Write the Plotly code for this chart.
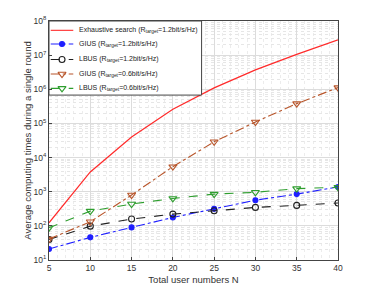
import plotly.graph_objects as go

N = [5, 10, 15, 20, 25, 30, 35, 40]
exhaustive_12 = [123, 3800, 40000, 260000, 1.1e6, 3.7e6, 1.05e7, 2.8e7]
gius_12 = [21, 46, 90, 176, 315, 565, 850, 1380]
lbus_12 = [40, 98, 158, 221, 276, 347, 398, 465]
gius_06 = [41, 132, 800, 5400, 29000, 110000, 380000, 1.12e6]
lbus_06 = [88, 270, 435, 635, 850, 960, 1230, 1350]

ytick_vals = [10**k for k in range(1, 9)]
ytick_text = ["10<sup>%d</sup>" % k for k in range(1, 9)]

series = [
    dict(y=exhaustive_12, name="Exhaustive search (R<sub>target</sub>=1.2bit/s/Hz)",
         color="#ff2a2a", dash="solid", symbol=None, msize=0),
    dict(y=gius_12, name="GIUS (R<sub>target</sub>=1.2bit/s/Hz)",
         color="#1f1fff", dash="dashdot", symbol="circle", msize=5),
    dict(y=lbus_12, name="LBUS (R<sub>target</sub>=1.2bit/s/Hz)",
         color="#202020", dash="dash", symbol="circle-open", msize=6),
    dict(y=gius_06, name="GIUS (R<sub>target</sub>=0.6bit/s/Hz)",
         color="#b8552a", dash="dashdot", symbol="triangle-down-open", msize=7),
    dict(y=lbus_06, name="LBUS (R<sub>target</sub>=0.6bit/s/Hz)",
         color="#2e9e2e", dash="dash", symbol="triangle-down-open", msize=7),
]

fig = go.Figure()
for s in series:
    if s["symbol"] is None:
        fig.add_trace(go.Scatter(x=N, y=s["y"], mode="lines", name=s["name"],
                                 showlegend=False,
                                 line=dict(color=s["color"], width=1.2)))
    else:
        fig.add_trace(go.Scatter(x=N, y=s["y"], mode="lines+markers", name=s["name"],
                                 showlegend=False,
                                 line=dict(color=s["color"], width=1.1, dash=s["dash"]),
                                 marker=dict(symbol=s["symbol"], size=s["msize"], color=s["color"],
                                             line=dict(width=1.1, color=s["color"]))))

# Legend box (drawn on overlay axes so it covers the data)
box_x0, box_x1, box_y0, box_y1 = 0.0, 0.528, 0.690, 1.0
fig.add_trace(go.Scatter(x=[box_x0, box_x1, box_x1, box_x0, box_x0],
                         y=[box_y0, box_y0, box_y1, box_y1, box_y0],
                         xaxis="x2", yaxis="y2", mode="lines", fill="toself",
                         fillcolor="white", line=dict(color="#444444", width=1),
                         showlegend=False, hoverinfo="skip"))
entry_y = [0.961, 0.904, 0.839, 0.778, 0.718]
for s, ey in zip(series, entry_y):
    fig.add_trace(go.Scatter(x=[0.006, 0.084], y=[ey, ey], xaxis="x2", yaxis="y2",
                             mode="lines", showlegend=False, hoverinfo="skip",
                             line=dict(color=s["color"], width=1.1, dash=s["dash"])))
    if s["symbol"] is not None:
        fig.add_trace(go.Scatter(x=[0.045], y=[ey], xaxis="x2", yaxis="y2",
                                 mode="markers", showlegend=False, hoverinfo="skip",
                                 marker=dict(symbol=s["symbol"], size=s["msize"], color=s["color"],
                                             line=dict(width=1.1, color=s["color"]))))
    fig.add_annotation(x=0.097, y=ey, xref="paper", yref="paper", text=s["name"],
                       showarrow=False, xanchor="left", yanchor="middle",
                       font=dict(size=7, color="#222222"))

fig.update_layout(
    width=366, height=283,
    margin=dict(l=41, r=36, t=13, b=31, autoexpand=False),
    paper_bgcolor="white", plot_bgcolor="white",
    font=dict(family="Liberation Sans, Arial, sans-serif", size=8, color="#333333"),
    showlegend=False,
    xaxis2=dict(overlaying="x", range=[0, 1], visible=False, anchor="y2", fixedrange=True),
    yaxis2=dict(overlaying="y", range=[0, 1], visible=False, anchor="x2", fixedrange=True),
    xaxis=dict(range=[5, 40], tickvals=[5, 10, 15, 20, 25, 30, 35, 40], automargin=False,
               showgrid=True, gridcolor="#dcdcdc", gridwidth=0.8,
               minor=dict(dtick=1, showgrid=True, gridcolor="#ececec", griddash="dot"),
               showline=True, linecolor="#444444", linewidth=1, mirror=True,
               ticks="inside", ticklen=3, tickcolor="#444444", zeroline=False,
               tickfont=dict(size=8.5),
               title=dict(text="Total user numbers N", font=dict(size=9.5), standoff=4)),
    yaxis=dict(type="log", range=[1, 8], tickvals=ytick_vals, ticktext=ytick_text, automargin=False,
               showgrid=True, gridcolor="#dcdcdc", gridwidth=0.8,
               minor=dict(showgrid=True, gridcolor="#e6e6e6", griddash="dot",
                          tickvals=[m * 10**k for k in range(1, 8) for m in range(2, 10)]),
               showline=True, linecolor="#444444", linewidth=1, mirror=True,
               ticks="inside", ticklen=3, tickcolor="#444444", zeroline=False,
               tickfont=dict(size=8.5),
               title=dict(text="Average computing times during a single round",
                          font=dict(size=9.5), standoff=0)),
)

fig.write_html("out.html")
